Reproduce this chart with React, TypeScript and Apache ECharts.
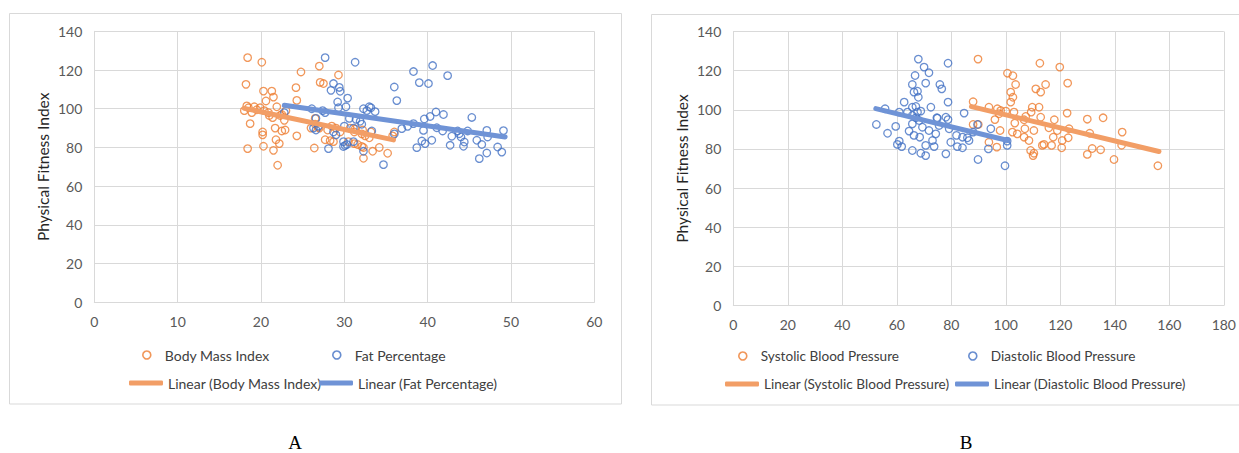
import React, { useEffect, useRef } from "react";
import * as echarts from "echarts";

// ---------- data ----------
const bodyMassIndex: number[][] = [
  [18.4, 126.4], [20.1, 124], [18.2, 112.6], [24.8, 119], [27.0, 122], [29.3, 117.4], [27.1, 113.6],
  [27.5, 113], [24.2, 110.9], [20.3, 109.1], [21.3, 109.1], [21.5, 106], [20.6, 104], [24.3, 104.3],
  [18.0, 99], [18.5, 100.5], [19.2, 101], [19.9, 100.5], [20.4, 99], [21.9, 101], [18.9, 98], [20.9, 98],
  [18.3, 101.5], [19.5, 99.5], [18.7, 92.3], [21.4, 95.4], [22.3, 96.5], [22.8, 94], [26.0, 90], [26.5, 92],
  [20.2, 88], [20.2, 86.5], [21.7, 90], [21.8, 84], [22.5, 88.5], [22.9, 89], [22.2, 82], [24.3, 86],
  [18.4, 79.4], [20.3, 80.6], [21.5, 78.5], [22.0, 70.8], [26.4, 79.7], [27.7, 84], [28.3, 83.5], [28.7, 83],
  [26.5, 95], [26.9, 90.5], [27.0, 90], [28.0, 89], [29.0, 90], [29.5, 88], [28.5, 91],
  [30.7, 90], [31.2, 88], [32.1, 87], [32.5, 86], [33.0, 85], [33.2, 88], [32.2, 89], [31.3, 89.5],
  [30.5, 83], [31.2, 82], [31.6, 81.5], [32.1, 80.5], [32.3, 80], [32.3, 74.4], [33.4, 78], [34.2, 80],
  [35.2, 77], [36.0, 88], [35.8, 86], [23.0, 99], [22.5, 97], [21.0, 96.5],
];

const fatPercentage: number[][] = [
  [22.8, 98], [27.7, 126.4], [31.3, 124], [28.7, 113], [29.4, 111], [28.4, 109.5], [29.5, 109],
  [30.4, 105.5], [29.2, 103.5], [30.2, 101], [29.3, 100.5], [32.3, 100], [33.0, 101], [33.2, 100.5],
  [32.7, 99], [33.7, 98.5], [26.1, 100], [27.4, 99], [27.7, 98], [26.6, 95], [26.3, 90], [26.6, 89],
  [26.9, 91], [28.7, 88], [29.0, 86.5], [30.0, 91], [31.1, 90], [30.6, 95], [31.4, 94.5], [31.9, 93.5],
  [32.1, 92], [33.3, 88.5], [29.9, 83], [30.3, 81.5], [31.1, 83], [28.1, 79.4], [29.9, 80.5], [30.1, 81],
  [32.3, 78], [34.7, 71.1], [40.6, 122.3], [38.3, 119.2], [42.4, 117.1], [39.0, 113.5], [40.1, 113],
  [36.0, 111.2], [36.3, 104.2], [41.0, 98.3], [41.9, 97], [40.3, 96], [39.6, 94.7], [45.3, 95.5],
  [38.3, 92.3], [37.6, 90.9], [36.9, 89.7], [39.5, 88.8], [41.1, 90.2], [41.8, 88.5], [43.6, 88.5],
  [43.8, 87.1], [44.8, 88.5], [44.0, 85.4], [42.9, 85.8], [47.1, 88.8], [49.1, 88.7], [47.2, 85.4],
  [36.0, 87], [45.9, 83.7], [46.5, 81.5], [39.3, 83.3], [39.7, 82], [40.5, 83.7], [38.7, 79.9],
  [42.7, 81.1], [44.3, 80.6], [44.4, 82.8], [48.4, 80.2], [48.9, 77.6], [47.1, 77.1], [46.2, 74.2],
];

const systolicBloodPressure: number[][] = [
  [89.8, 125.9], [112.5, 123.8], [119.8, 121.8], [100.6, 118.7], [102.6, 117.4], [103.6, 112.9],
  [122.7, 113.6], [114.6, 112.9], [111, 110.7], [112.8, 109], [101.8, 109], [102.6, 106.4], [101.8, 103.9],
  [88, 104.1], [93.8, 101.3], [96.9, 100.5], [98.1, 99.6], [100, 99.3], [103, 98.8], [97.5, 98],
  [109.7, 101.3], [112.2, 101.3], [122.5, 98.3], [109.3, 98.8], [107.3, 96.6], [129.9, 95.2], [135.7, 95.9],
  [96, 95], [103.3, 93.2], [106.7, 94.9], [112.8, 96.2], [117.8, 94.9], [88, 92.5], [89.9, 92.5],
  [97.9, 89.4], [102.4, 88.6], [104.2, 87.7], [107, 90.3], [110.3, 89.4], [115.8, 90.8], [118.9, 89.4],
  [123.2, 90.3], [130.8, 88], [142.7, 88.6], [106.7, 86], [108.5, 84.3], [114, 82.3], [117.4, 86],
  [120.7, 84.3], [122.9, 85.7], [116.8, 81.8], [93.8, 83.4], [96.7, 80.9], [113.4, 81.8], [120.5, 80.6],
  [109.1, 79.2], [110, 76.6], [110.3, 77.8], [129.9, 77.2], [131.7, 80.2], [134.8, 79.6], [142.5, 81.9],
  [139.7, 74.6], [155.8, 71.4],
];

const diastolicBloodPressure: number[][] = [
  [67.9, 125.9], [78.8, 123.8], [70.0, 121.8], [71.8, 118.9], [66.7, 117.5], [65.7, 112.9], [70.6, 113.6],
  [75.8, 112.9], [76.5, 110.7], [67.6, 109.5], [66.3, 109], [67.9, 106.4], [62.7, 103.9], [78.8, 103.9],
  [65.7, 101.3], [67, 101.7], [68.8, 99.3], [67.6, 98.8], [72.5, 101.3], [84.7, 98.3], [55.7, 100.5],
  [60.9, 98.8], [63.9, 98.8], [52.5, 92.5], [56.6, 88], [59.6, 91.5], [65.7, 97.1], [67, 95.9],
  [68.2, 94.5], [74.7, 95.9], [78.8, 95], [65.7, 92.8], [69.4, 91.1], [75.5, 92], [64.5, 89.1],
  [66.3, 86.9], [68.4, 86], [71.8, 89.4], [74.3, 87.7], [79.2, 90.3], [81.9, 86.9], [84.1, 86],
  [85.9, 85.7], [89.6, 92.5], [88, 88.6], [94.5, 90.3], [60.9, 84], [61.8, 81.2], [60.2, 82.3],
  [70.6, 81.8], [73.7, 81.2], [73.1, 84.3], [79.8, 83.4], [82.2, 81.2], [84.1, 80.6], [86.5, 84.3],
  [65.7, 79.2], [68.8, 77.8], [70.6, 76.6], [78, 77.5], [93.6, 80], [100.5, 81.8], [100.5, 84],
  [89.8, 74.6], [99.7, 71.4], [78, 96.2], [74.9, 95.7],
];

// trend line end points (as drawn in the picture)
const bmiTrend: number[][] = [[18.0, 100.2], [35.9, 83.9]];
const fatTrend: number[][] = [[22.8, 101.8], [49.3, 85.4]];
const systolicTrend: number[][] = [[87.4, 101.6], [156.2, 78.7]];
const diastolicTrend: number[][] = [[52.3, 100.6], [100.8, 84.3]];

const seriesNames = {
  bmi: "Body Mass Index",
  fat: "Fat Percentage",
  sys: "Systolic Blood Pressure",
  dia: "Diastolic Blood Pressure",
};
const yAxisTitle = "Physical Fitness Index";
const panelLabels = ["A", "B"];

// ---------- styling ----------
const ORANGE = "#ED7D31";
const BLUE = "#4472C4";
const ORANGE_TREND = "#F29E66";
const BLUE_TREND = "#6F93D6";
const GRID = "#D9D9D9";
const LABEL = "#595959";
const FONT = "Lato, 'Open Sans', sans-serif";

function scatter(name: string, data: number[][], color: string, idx: number) {
  return {
    name,
    type: "scatter",
    xAxisIndex: idx,
    yAxisIndex: idx,
    data,
    symbol: "circle",
    symbolSize: 7.5,
    itemStyle: { color: "rgba(255,255,255,0)", borderColor: color, borderWidth: 1.3 },
    z: 2,
  };
}

function trend(name: string, data: number[][], color: string, idx: number) {
  return {
    name,
    type: "line",
    xAxisIndex: idx,
    yAxisIndex: idx,
    data,
    color,
    symbol: "none",
    showSymbol: false,
    lineStyle: { color, width: 5, cap: "round" },
    z: 3,
  };
}

function legendItem(name: string, left: number, top: number, kind: "marker" | "line", color: string, fontSize: number) {
  const isMarker = kind === "marker";
  return {
    left,
    top,
    padding: 0,
    itemWidth: isMarker ? 8 : 34,
    itemHeight: isMarker ? 8 : 5,
    itemGap: 0,
    selectedMode: false,
    textStyle: { color: "#404040", fontSize, fontFamily: FONT, lineHeight: 16, padding: isMarker ? [0, 0, 0, 9] : 0 },
    data: [
      isMarker
        ? { name, icon: "circle", itemStyle: { color: "rgba(255,255,255,0)", borderColor: color, borderWidth: 1.6 } }
        : { name, icon: "roundRect", itemStyle: { color, borderWidth: 0 } },
    ],
  };
}

function xAxis(idx: number, max: number, interval: number) {
  return {
    type: "value",
    gridIndex: idx,
    min: 0,
    max,
    interval,
    axisLine: { show: true, onZero: false, lineStyle: { color: GRID, width: 1 } },
    axisTick: { show: false },
    axisLabel: { color: LABEL, fontSize: 14, fontFamily: FONT, margin: 12 },
    splitLine: { show: true, lineStyle: { color: GRID, width: 1 } },
  };
}

function yAxis(idx: number) {
  return {
    type: "value",
    gridIndex: idx,
    min: 0,
    max: 140,
    interval: 20,
    name: yAxisTitle,
    nameLocation: "middle",
    nameGap: 43,
    nameTextStyle: { color: "#262626", fontSize: 15.5, fontFamily: FONT },
    axisLine: { show: true, onZero: false, lineStyle: { color: GRID, width: 1 } },
    axisTick: { show: false },
    axisLabel: { color: LABEL, fontSize: 14, fontFamily: FONT, margin: 12 },
    splitLine: { show: true, lineStyle: { color: GRID, width: 1 } },
  };
}

export default function App() {
  const ref = useRef<HTMLDivElement>(null);

  useEffect(() => {
    if (!ref.current) return;
    const chart = echarts.init(ref.current, undefined, { renderer: "svg" });
    const r1 = 347;
    const r2 = 375;
    chart.setOption({
      animation: false,
      backgroundColor: "#ffffff",
      grid: [
        { left: 94.3, top: 31.3, width: 500, height: 271 },
        { left: 733.3, top: 31.5, width: 490.7, height: 274 },
      ],
      xAxis: [xAxis(0, 60, 10), xAxis(1, 180, 20)],
      yAxis: [yAxis(0), yAxis(1)],
      legend: [
        legendItem(seriesNames.bmi, 142, r1, "marker", ORANGE, 14),
        legendItem(seriesNames.fat, 332, r1, "marker", BLUE, 14),
        legendItem("Linear (" + seriesNames.bmi + ")", 129, r2, "line", ORANGE_TREND, 14),
        legendItem("Linear (" + seriesNames.fat + ")", 319, r2, "line", BLUE_TREND, 14),
        legendItem(seriesNames.sys, 738, r1 + 1, "marker", ORANGE, 13.6),
        legendItem(seriesNames.dia, 968, r1 + 1, "marker", BLUE, 13.6),
        legendItem("Linear (" + seriesNames.sys + ")", 725, r2 + 1, "line", ORANGE_TREND, 13.6),
        legendItem("Linear (" + seriesNames.dia + ")", 955, r2 + 1, "line", BLUE_TREND, 13.6),
      ],
      series: [
        scatter(seriesNames.bmi, bodyMassIndex, ORANGE, 0),
        scatter(seriesNames.fat, fatPercentage, BLUE, 0),
        trend("Linear (" + seriesNames.bmi + ")", bmiTrend, ORANGE_TREND, 0),
        trend("Linear (" + seriesNames.fat + ")", fatTrend, BLUE_TREND, 0),
        scatter(seriesNames.sys, systolicBloodPressure, ORANGE, 1),
        scatter(seriesNames.dia, diastolicBloodPressure, BLUE, 1),
        trend("Linear (" + seriesNames.sys + ")", systolicTrend, ORANGE_TREND, 1),
        trend("Linear (" + seriesNames.dia + ")", diastolicTrend, BLUE_TREND, 1),
      ],
      graphic: [
        {
          type: "rect",
          z: -10,
          silent: true,
          shape: { x: 9.5, y: 13.5, width: 612, height: 390.5 },
          style: { fill: "none", stroke: GRID, lineWidth: 1 },
        },
        {
          type: "rect",
          z: -10,
          silent: true,
          shape: { x: 651.5, y: 14.5, width: 600, height: 390.5 },
          style: { fill: "none", stroke: GRID, lineWidth: 1 },
        },
        {
          type: "text",
          x: 295,
          y: 433,
          style: { text: panelLabels[0], fill: "#000", fontSize: 19, fontFamily: "'Liberation Serif', 'DejaVu Serif', serif", textAlign: "center", textVerticalAlign: "top" },
        },
        {
          type: "text",
          x: 966,
          y: 433,
          style: { text: panelLabels[1], fill: "#000", fontSize: 19, fontFamily: "'Liberation Serif', 'DejaVu Serif', serif", textAlign: "center", textVerticalAlign: "top" },
        },
      ],
    });
    return () => chart.dispose();
  }, []);

  return (
    <div
      ref={ref}
      style={{ position: "fixed", left: 0, top: 0, width: 1239, height: 453, background: "#fff" }}
    />
  );
}
